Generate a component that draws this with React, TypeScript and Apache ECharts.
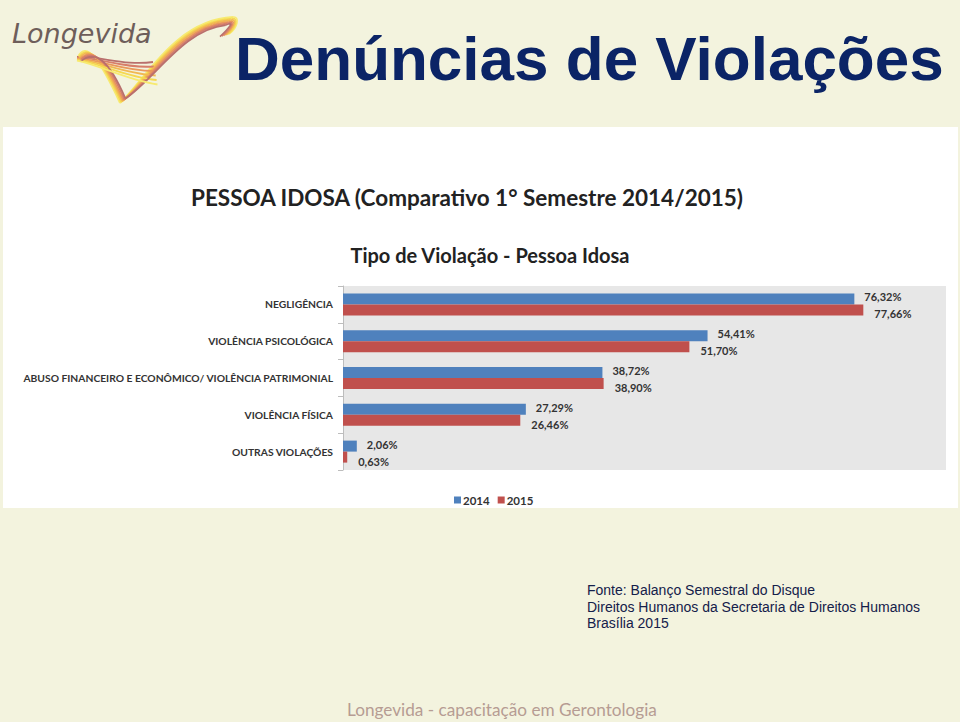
import React, { useEffect, useRef } from "react";
import * as echarts from "echarts";

const categories = [
  "NEGLIGÊNCIA",
  "VIOLÊNCIA PSICOLÓGICA",
  "ABUSO FINANCEIRO E ECONÔMICO/ VIOLÊNCIA PATRIMONIAL",
  "VIOLÊNCIA FÍSICA",
  "OUTRAS VIOLAÇÕES",
];
const values2014 = [76.32, 54.41, 38.72, 27.29, 2.06];
const values2015 = [77.66, 51.7, 38.9, 26.46, 0.63];
const seriesNames = ["2014", "2015"];

const pageTitle = "Denúncias de Violações";
const chartTitle = "PESSOA IDOSA (Comparativo 1° Semestre 2014/2015)";
const chartSubtitle = "Tipo de Violação - Pessoa Idosa";
const sourceLines = [
  "Fonte: Balanço Semestral do Disque",
  "Direitos Humanos da Secretaria de Direitos Humanos",
  "Brasília 2015",
];
const footer = "Longevida - capacitação em Gerontologia";

const fmt = (v: number) => v.toFixed(2).replace(".", ",") + "%";

export default function App() {
  const ref = useRef<HTMLDivElement>(null);
  useEffect(() => {
    document.body.style.margin = "0";
    const chart = echarts.init(ref.current!, undefined, { renderer: "svg" });
    const strandColors = ["#F7EA70", "#F5D850", "#F1B852", "#EA985A", "#D77E6A", "#B96F6C"];
    const logo: any[] = [];
    strandColors.forEach((c, i) => {
      const d = i * 1.8;
      const lx = 120 + d * 0.6, ly = 103 - d * 0.5;
      const rx = 233 - d * 0.8, ry = 17 + d * 0.9;
      logo.push({
        type: "bezierCurve",
        shape: { x1: 78 + d * 0.3, y1: 57 + d * 0.5, cpx1: 86 + d, cpy1: 40 + d, cpx2: 100 + d, cpy2: 60, x2: lx, y2: ly },
        style: { stroke: c, lineWidth: 1.8, fill: null },
      });
      logo.push({
        type: "bezierCurve",
        shape: { x1: lx, y1: ly, cpx1: 145 + d, cpy1: 80, cpx2: 175 + d, cpy2: 20 + d, x2: rx, y2: ry },
        style: { stroke: c, lineWidth: 1.8, fill: null },
      });
      logo.push({
        type: "bezierCurve",
        shape: { x1: rx, y1: ry, cpx1: 240 - d * 0.5, cpy1: 16 + d * 0.5, cpx2: 238 - d, cpy2: 28, x2: 229 - d, y2: 34 + d * 0.3 },
        style: { stroke: c, lineWidth: 1.6, fill: null },
      });
      logo.push({
        type: "bezierCurve",
        shape: { x1: 77, y1: 57 + d * 0.4, cpx1: 100, cpy1: 56 + d, cpx2: 125, cpy2: 66 + d * 1.5, x2: 153 + d * 0.5, y2: 62 + d * 2.5 },
        style: { stroke: strandColors[5 - i], lineWidth: 1.8, fill: null },
      });
    });

    const option: any = {
      animation: false,
      backgroundColor: "#F3F3DE",
      graphic: [
        { type: "rect", shape: { x: 3, y: 127, width: 955, height: 381 }, style: { fill: "#FFFFFF" }, z: -10 },
        ...logo,
        {
          type: "text", x: 12, y: 33,
          style: { text: "Longevida", font: "italic 27px 'DejaVu Sans', sans-serif", fill: "#6E5E5A", verticalAlign: "middle" },
        },
        {
          type: "text", x: 235, y: 58,
          style: { text: pageTitle, font: "bold 62px 'Liberation Sans', Arial, sans-serif", fill: "#0B2466", verticalAlign: "middle" },
        },
        {
          type: "text", x: 467, y: 197,
          style: { text: chartTitle, font: "bold 22.5px Lato, sans-serif", fill: "#222", align: "center", verticalAlign: "middle" },
        },
        {
          type: "text", x: 490, y: 255,
          style: { text: chartSubtitle, font: "bold 20px Lato, sans-serif", fill: "#222", align: "center", verticalAlign: "middle" },
        },
        ...sourceLines.map((t, i) => ({
          type: "text", x: 587, y: 590 + i * 16.5,
          style: { text: t, font: "14px 'Liberation Sans', Arial, sans-serif", fill: "#14204A", verticalAlign: "middle" },
        })),
        {
          type: "text", x: 347, y: 709,
          style: { text: footer, font: "17.2px Lato, sans-serif", fill: "#B69C93", verticalAlign: "middle" },
        },
      ],
      legend: {
        data: seriesNames,
        left: 449,
        top: 489,
        itemWidth: 7,
        itemHeight: 7,
        itemGap: 8,
        icon: "rect",
        textStyle: { fontFamily: "Lato", fontWeight: "bold", fontSize: 11.5, color: "#333", padding: [0, 0, 0, -3] },
      },
      grid: {
        left: 343,
        top: 286,
        width: 603,
        height: 184,
        show: true,
        backgroundColor: "#E7E7E7",
        borderWidth: 0,
      },
      xAxis: { type: "value", min: 0, max: 90, show: false },
      yAxis: {
        type: "category",
        inverse: true,
        data: categories,
        axisLine: { show: true, lineStyle: { color: "#BDBDBD" } },
        axisTick: { show: true, length: 5, lineStyle: { color: "#BDBDBD" } },
        axisLabel: { fontFamily: "Lato", fontWeight: "bold", fontSize: 10.3, color: "#333", margin: 10 },
      },
      series: [
        {
          name: seriesNames[0], type: "bar", data: values2014, barWidth: 11, barGap: "0%",
          itemStyle: { color: "#4F81BD" },
          label: { show: true, position: "right", offset: [5, -2], formatter: (p: any) => fmt(p.value), fontFamily: "Lato", fontWeight: "bold", fontSize: 11, color: "#333" },
        },
        {
          name: seriesNames[1], type: "bar", data: values2015, barWidth: 11,
          itemStyle: { color: "#C0504D" },
          label: { show: true, position: "right", offset: [6, 4], formatter: (p: any) => fmt(p.value), fontFamily: "Lato", fontWeight: "bold", fontSize: 11, color: "#333" },
        },
      ],
    };
    chart.setOption(option);
    return () => chart.dispose();
  }, []);
  return <div ref={ref} style={{ position: "absolute", left: 0, top: 0, width: 960, height: 722 }} />;
}
